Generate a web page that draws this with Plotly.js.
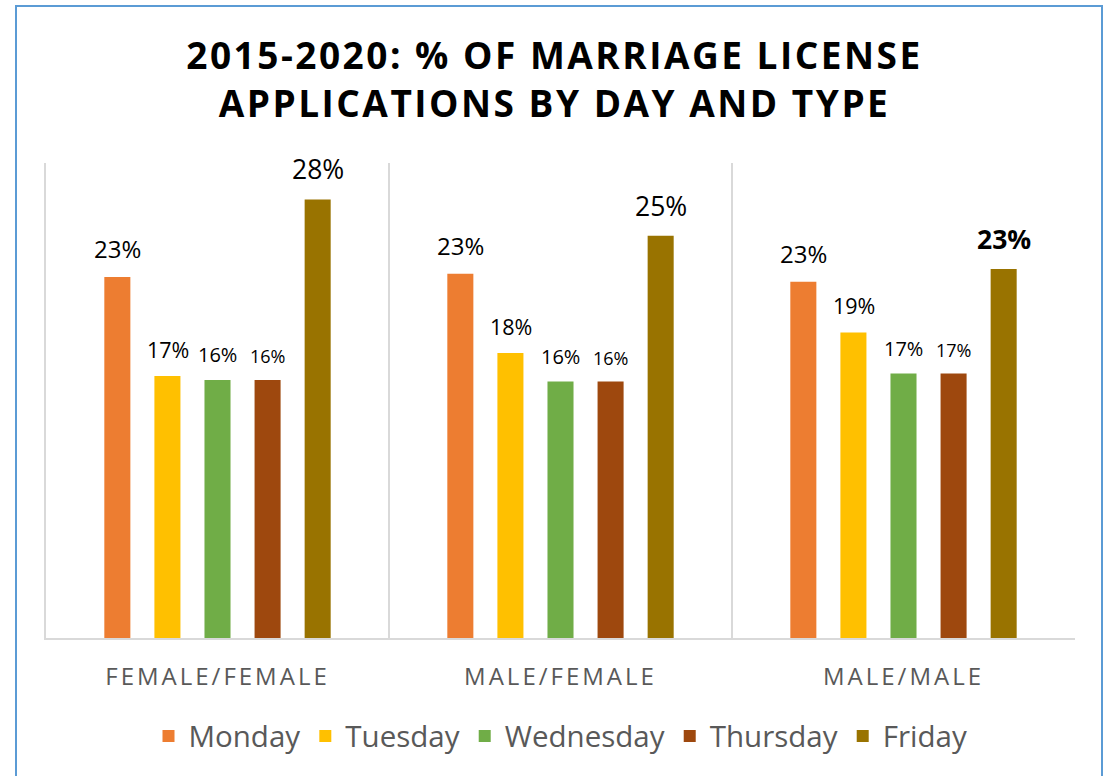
<!DOCTYPE html>
<html>
<head>
<meta charset="utf-8">
<script src="https://cdn.plot.ly/plotly-3.0.1.min.js"></script>
<style>
  html, body { margin: 0; padding: 0; background: #fff; }
  #chart { width: 1109px; height: 776px; }
</style>
</head>
<body>
<div id="chart"></div>
<script>
// ---- data ----
const categories = ["FEMALE/FEMALE", "MALE/FEMALE", "MALE/MALE"];
const days = ["Monday", "Tuesday", "Wednesday", "Thursday", "Friday"];
const monday    = [22.8, 23.0, 22.5];
const tuesday   = [16.55, 18.0, 19.3];
const wednesday = [16.3, 16.2, 16.7];
const thursday  = [16.3, 16.2, 16.7];
const friday    = [27.7, 25.4, 23.3];
const chartTitle = "2015-2020: % OF MARRIAGE LICENSE<br>APPLICATIONS BY DAY AND TYPE";

// ---- styles ----
const colors = ["#ED7D31", "#FFC000", "#70AD47", "#9E480E", "#997300"];
const labelSizes = [24, 21.5, 20, 18, 26.5];
const seriesValues = [monday, tuesday, wednesday, thursday, friday];
const FONT = "Open Sans, sans-serif";

const traces = seriesValues.map((vals, i) => ({
  type: "bar",
  name: days[i],
  x: categories,
  y: vals,
  marker: { color: colors[i] },
  hoverinfo: "skip"
}));

const annotations = [];
seriesValues.forEach((vals, i) => {
  vals.forEach((v, j) => {
    const bold = (i === 4 && j === 2);
    const t = Math.round(v) + "%";
    annotations.push({
      x: categories[j], y: v, xref: "x", yref: "y",
      text: bold ? "<b>" + t + "</b>" : t,
      showarrow: false,
      xshift: (i - 2) * 50,
      yshift: 10,
      yanchor: "bottom",
      font: { family: FONT, size: labelSizes[i], color: "#000" }
    });
  });
});

const layout = {
  width: 1109, height: 776,
  paper_bgcolor: "#fff", plot_bgcolor: "#fff",
  margin: { l: 46, r: 34, t: 163, b: 138 },
  font: { family: FONT },
  title: {
    text: "<b>" + chartTitle + "</b>",
    font: { family: FONT, size: 37, color: "#000" },
    x: 0.5, xanchor: "center",
    y: 1 - 69 / 776, yanchor: "top"
  },
  barmode: "group",
  bargap: 0.27,
  bargroupgap: 0.48,
  showlegend: true,
  legend: {
    orientation: "h",
    x: 0.5, xanchor: "center",
    y: -0.152, yanchor: "top",
    font: { family: FONT, size: 29.5, color: "#595959" },
    itemclick: false, itemdoubleclick: false
  },
  xaxis: {
    type: "category",
    tickson: "boundaries",
    showgrid: true, gridcolor: "#D9D9D9", gridwidth: 2,
    showline: true, linecolor: "#D9D9D9", linewidth: 2,
    ticks: "", ticklabelstandoff: 16,
    tickfont: { family: FONT, size: 24, color: "#595959" },
    fixedrange: true
  },
  yaxis: {
    range: [0, 30],
    showgrid: false, zeroline: false,
    showticklabels: false,
    showline: true, linecolor: "#D9D9D9", linewidth: 2,
    fixedrange: true
  },
  annotations: annotations,
  shapes: [{
    type: "rect", xref: "paper", yref: "paper",
    x0: -30 / 1029, x1: 1056 / 1029,
    y0: -160 / 475, y1: 632 / 475,
    line: { color: "#5B9BD5", width: 2 },
    fillcolor: "rgba(0,0,0,0)",
    layer: "below"
  }]
};

Plotly.newPlot("chart", traces, layout, { staticPlot: true, displayModeBar: false }).then(() => {
  document.querySelectorAll(".xtick text").forEach(t => { t.style.letterSpacing = "3px"; });
  document.querySelectorAll(".gtitle").forEach(t => { t.style.letterSpacing = "2.5px"; });
});
</script>
</body>
</html>
